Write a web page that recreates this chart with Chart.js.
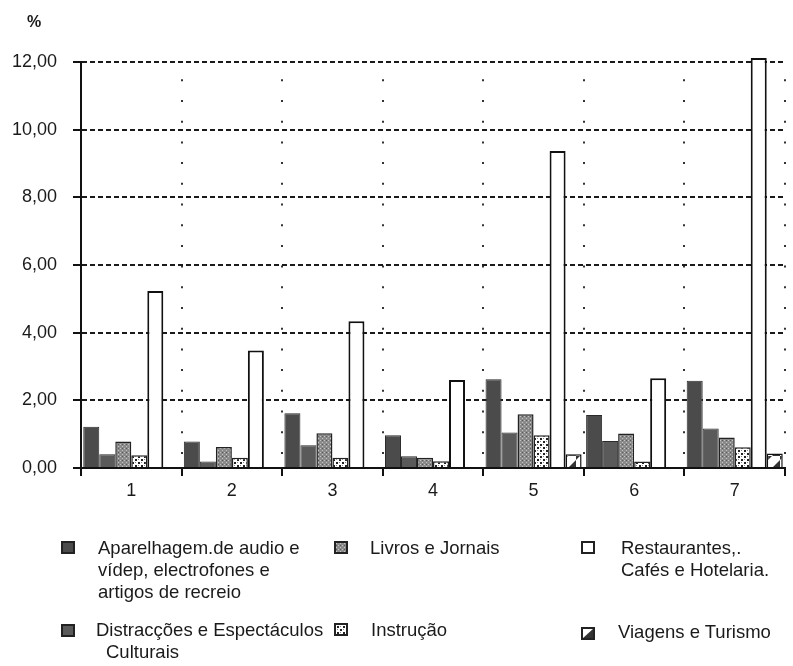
<!DOCTYPE html>
<html>
<head>
<meta charset="utf-8">
<script src="https://cdn.jsdelivr.net/npm/chart.js@4.4.1/dist/chart.umd.min.js"></script>
<style>
body { margin: 0; background: #fff; }
#wrap { position: relative; width: 793px; height: 666px; font-family: "Liberation Sans", Arial, sans-serif; color: #1a1a1a; }
#grafico { position: absolute; left: 0; top: 0; }
.lg { position: absolute; font-size: 18.5px; line-height: 22px; white-space: nowrap; }
.sw { position: absolute; width: 14px; height: 13px; }
</style>
</head>
<body>
<div id="wrap">
  <canvas id="grafico" width="793" height="666"></canvas>
  <div class="lg" style="left:27px;top:11px;font-weight:bold;font-size:16px">%</div>

  <canvas class="sw" id="sw0" width="14" height="13" style="left:61px;top:541px"></canvas>
  <div class="lg" style="left:98px;top:537px">Aparelhagem.de audio e<br>vídep, electrofones e<br>artigos de recreio</div>

  <canvas class="sw" id="sw2" width="14" height="13" style="left:334px;top:541px"></canvas>
  <div class="lg" style="left:370px;top:537px">Livros e Jornais</div>

  <canvas class="sw" id="sw4" width="14" height="13" style="left:581px;top:541px"></canvas>
  <div class="lg" style="left:621px;top:537px">Restaurantes,.<br>Cafés e Hotelaria.</div>

  <canvas class="sw" id="sw1" width="14" height="13" style="left:61px;top:624px"></canvas>
  <div class="lg" style="left:96px;top:619px">Distracções e Espectáculos<br><span style="margin-left:10px">Culturais</span></div>

  <canvas class="sw" id="sw3" width="14" height="13" style="left:334px;top:623px"></canvas>
  <div class="lg" style="left:371px;top:619px">Instrução</div>

  <canvas class="sw" id="sw5" width="14" height="13" style="left:581px;top:627px"></canvas>
  <div class="lg" style="left:618px;top:621px">Viagens e Turismo</div>
</div>
<script>
// dados (%)
const categorias = ["1", "2", "3", "4", "5", "6", "7"];
const nomes = [
    "Aparelhagem.de audio e vídep, electrofones e artigos de recreio",
    "Distracções e Espectáculos Culturais",
    "Livros e Jornais",
    "Instrução",
    "Restaurantes,. Cafés e Hotelaria.",
    "Viagens e Turismo"
];
const aparelhagem = [1.22, 0.78, 1.62, 0.97, 2.62, 1.57, 2.58];
const distraccoes = [0.41, 0.19, 0.67, 0.35, 1.05, 0.80, 1.17];
const livros = [0.78, 0.62, 1.03, 0.30, 1.59, 1.02, 0.90];
const instrucao = [0.38, 0.30, 0.30, 0.20, 0.97, 0.19, 0.61];
const restaurantes = [5.23, 3.47, 4.34, 2.60, 9.37, 2.65, 12.12];
const viagens = [0, 0, 0.03, 0, 0.41, 0, 0.43];
const valoresY = [0, 2, 4, 6, 8, 10, 12];

const ctx = document.getElementById("grafico").getContext("2d");

function padrao(w, h, desenho) {
    const c = document.createElement("canvas");
    c.width = w;
    c.height = h;
    desenho(c.getContext("2d"));
    return ctx.createPattern(c, "repeat");
}

const fundoLivros = padrao(4, 4, (g) => {
    g.fillStyle = "#8a8a8a";
    g.fillRect(0, 0, 4, 4);
    g.fillStyle = "#c4c4c4";
    g.fillRect(0, 0, 1, 1);
    g.fillRect(2, 2, 1, 1);
    g.fillStyle = "#5a5a5a";
    g.fillRect(2, 0, 1, 1);
});
const fundoInstrucao = padrao(6, 6, (g) => {
    g.fillStyle = "#ffffff";
    g.fillRect(0, 0, 6, 6);
    g.fillStyle = "#222222";
    g.fillRect(0, 0, 2, 2);
    g.fillRect(3, 3, 2, 2);
    g.fillStyle = "#888888";
    g.fillRect(3, 0, 1, 1);
    g.fillRect(0, 3, 1, 1);
});
// riscas diagonais (metade escura, como o símbolo da legenda)
const fundoViagens = padrao(12, 12, (g) => {
    g.fillStyle = "#ffffff";
    g.fillRect(0, 0, 12, 12);
    g.fillStyle = "#333333";
    g.beginPath();
    g.moveTo(12, 4);
    g.lineTo(12, 12);
    g.lineTo(4, 12);
    g.closePath();
    g.fill();
    g.beginPath();
    g.moveTo(0, 4);
    g.lineTo(4, 0);
    g.lineTo(0, 0);
    g.closePath();
    g.fill();
});

const series = [
    { label: nomes[0], data: aparelhagem, backgroundColor: "#4b4b4b", borderColor: "#2a2a2a", borderWidth: 1 },
    { label: nomes[1], data: distraccoes, backgroundColor: "#5a5a5a", borderColor: "#2a2a2a", borderWidth: 1 },
    { label: nomes[2], data: livros, backgroundColor: fundoLivros, borderColor: "#222", borderWidth: 1.5 },
    { label: nomes[3], data: instrucao, backgroundColor: fundoInstrucao, borderColor: "#222", borderWidth: 1.5 },
    { label: nomes[4], data: restaurantes, backgroundColor: "#ffffff", borderColor: "#111", borderWidth: 2 },
    { label: nomes[5], data: viagens, backgroundColor: fundoViagens, borderColor: "#111", borderWidth: 1.5 }
];

// quadrados da legenda
series.forEach((s, i) => {
    const g = document.getElementById("sw" + i).getContext("2d");
    if (i === 5) {
        g.fillStyle = "#fff";
        g.fillRect(0, 0, 14, 13);
        g.fillStyle = "#333";
        g.beginPath();
        g.moveTo(13, 1);
        g.lineTo(13, 12);
        g.lineTo(1, 12);
        g.closePath();
        g.fill();
    } else {
        g.fillStyle = s.backgroundColor;
        g.fillRect(0, 0, 14, 13);
    }
    g.lineWidth = 2;
    g.strokeStyle = "#222";
    g.strokeRect(1, 1, 12, 11);
});

const chart = new Chart(ctx, {
    type: "bar",
    data: {
        labels: categorias,
        datasets: series.map((s) => ({
            label: s.label,
            data: s.data,
            backgroundColor: s.backgroundColor,
            borderColor: s.borderColor,
            borderWidth: s.borderWidth,
            borderSkipped: "start",
            categoryPercentage: 0.955,
            barPercentage: 1,
            clip: false
        }))
    },
    options: {
        responsive: false,
        animation: false,
        layout: { padding: { top: 62, right: 8, left: 0, bottom: 0 } },
        plugins: { legend: { display: false }, tooltip: { enabled: false } },
        scales: {
            x: {
                grid: {
                    offset: true,
                    color: "#333",
                    lineWidth: 2,
                    tickLength: 8,
                    tickColor: "#111",
                    tickWidth: 2,
                    tickBorderDash: []
                },
                border: { display: true, color: "#111", width: 2, dash: [2, 18.7], dashOffset: 3.4 },
                ticks: {
                    color: "#1a1a1a",
                    padding: 4,
                    font: { family: "Liberation Sans", size: 18 }
                },
                afterFit: (scale) => { scale.height = 198; }
            },
            y: {
                min: 0,
                max: 12,
                afterBuildTicks: (scale) => { scale.ticks = valoresY.map((v) => ({ value: v })); },
                grid: {
                    color: "#1a1a1a",
                    lineWidth: 2,
                    tickLength: 8,
                    tickColor: "#111",
                    tickWidth: 2,
                    tickBorderDash: []
                },
                border: { display: true, color: "#111", width: 2, dash: [5, 3] },
                ticks: {
                    color: "#1a1a1a",
                    padding: 16,
                    font: { family: "Liberation Sans", size: 18 },
                    callback: (v) => v.toFixed(2).replace(".", ",")
                },
                afterFit: (scale) => { scale.width = 81; }
            }
        }
    }
});
</script>
</body>
</html>
